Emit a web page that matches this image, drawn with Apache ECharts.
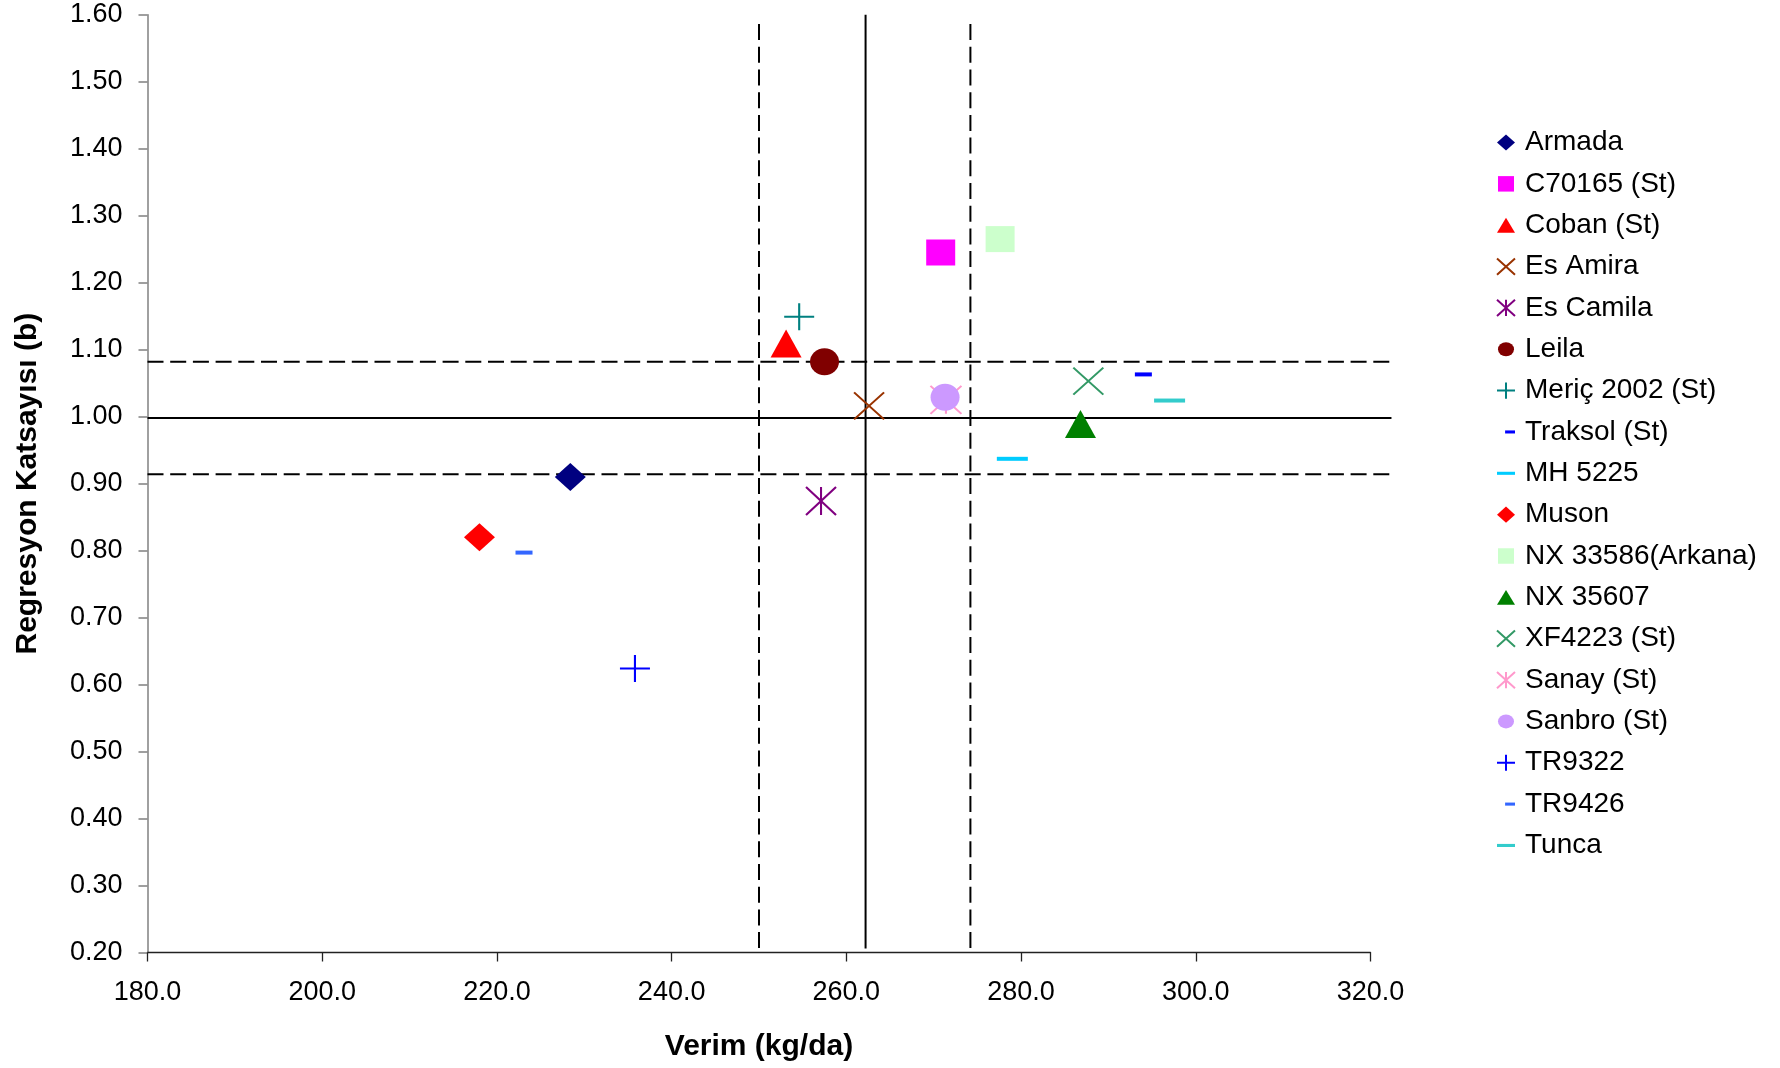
<!DOCTYPE html>
<html>
<head>
<meta charset="utf-8">
<title>Verim - Regresyon Katsayısı</title>
<script src="https://cdn.jsdelivr.net/npm/echarts@6/dist/echarts.min.js"></script>
<style>
  html, body { margin: 0; padding: 0; background: #fff; }
  #chart { width: 1780px; height: 1068px; }
</style>
</head>
<body>
<div id="chart"></div>
<script>
// Varieties, mean yield (kg/da) and regression coefficient (b)
const varieties = ['Armada', 'C70165 (St)', 'Coban (St)', 'Es Amira', 'Es Camila', 'Leila',
  'Meriç 2002 (St)', 'Traksol (St)', 'MH 5225', 'Muson', 'NX 33586(Arkana)', 'NX 35607',
  'XF4223 (St)', 'Sanay (St)', 'Sanbro (St)', 'TR9322', 'TR9426', 'Tunca'];
const yieldValues = [228.4, 270.8, 253.1, 262.6, 257.1, 257.5,
  254.6, 294.0, 279.0, 218.0, 277.6, 286.8,
  287.7, 271.4, 271.3, 235.8, 223.1, 297.0];
const regressionB = [0.910, 1.245, 1.109, 1.016, 0.874, 1.082,
  1.149, 1.063, 0.937, 0.820, 1.265, 0.989,
  1.053, 1.025, 1.029, 0.624, 0.797, 1.024];

// Axis ticks
const xTicks = [180, 200, 220, 240, 260, 280, 300, 320];
const yTicks = [0.20, 0.30, 0.40, 0.50, 0.60, 0.70, 0.80, 0.90, 1.00, 1.10, 1.20, 1.30, 1.40, 1.50, 1.60];

// Mean lines and their limits
const yieldMean = 262.2;
const yieldLimits = [250.0, 274.2];
const bMean = 0.998;
const bLimits = [0.914, 1.082];
const hLineSpan = [180, 322.4];   // horizontal guides run a little past the last x tick
const vLineSpan = [0.206, 1.60];
const vDashTop = 1.586;

// Plot box (px) and the x scale shared by both grids
const PLOT_LEFT = 147.5, PLOT_RIGHT = 409.5, PLOT_TOP = 14.7, PLOT_BOTTOM = 115.5;
const PX_PER_UNIT = (1780 - PLOT_LEFT - PLOT_RIGHT) / (xTicks[xTicks.length - 1] - xTicks[0]);
const guideRight = 1780 - PLOT_LEFT - (hLineSpan[1] - hLineSpan[0]) * PX_PER_UNIT;

// Marker shapes
const P = {
  x: 'path://M0,0 L10,10 M10,0 L0,10',
  plus: 'path://M5,0 L5,10 M0,5 L10,5',
  star: 'path://M0,0 L10,10 M10,0 L0,10 M5,0 L5,10'
};
const L = {
  diamond: 'path://M0,0 M20,20 M10,1 L20,10 L10,19 L0,10 Z',
  square: 'path://M0,0 M20,20 M1.1,1.4 L18.9,1.4 L18.9,18.6 L1.1,18.6 Z',
  triangle: 'path://M0,0 M20,20 M10,1.7 L20,18.3 L0,18.3 Z',
  x: 'path://M0,0 M20,20 M0,1 L20,19 M20,1 L0,19',
  plus: 'path://M0,0 M20,20 M10,1 L10,19 M0,10 L20,10',
  star: 'path://M0,0 M20,20 M0,1 L20,19 M20,1 L0,19 M10,1 L10,19',
  circle: 'path://M0,0 M20,20 M1.1,10 A8.9,7.8 0 1,1 18.9,10 A8.9,7.8 0 1,1 1.1,10 Z',
  dash: 'path://M0,0 M20,20 M0,8.3 L20,8.3 L20,11.7 L0,11.7 Z',
  shortDash: 'path://M0,0 M20,20 M9,8.3 L20,8.3 L20,11.7 L9,11.7 Z'
};

// Per-variety marker look, in the same order as the varieties
const markerStyles = [
  { symbol: 'diamond', size: [31, 28], color: '#000080', icon: L.diamond },
  { symbol: 'rect', size: [29, 26], color: '#FF00FF', icon: L.square },
  { symbol: 'triangle', size: [31, 28], color: '#FF0000', icon: L.triangle },
  { symbol: P.x, size: [30, 27], color: '#993300', icon: L.x, stroke: true },
  { symbol: P.star, size: [30, 28], color: '#800080', icon: L.star, stroke: true },
  { symbol: 'circle', size: [29, 27], color: '#800000', icon: L.circle },
  { symbol: P.plus, size: [30, 27], color: '#008080', icon: L.plus, stroke: true },
  { symbol: 'rect', size: [17, 4], color: '#0000FF', icon: L.shortDash },
  { symbol: 'rect', size: [31, 4], color: '#00CCFF', icon: L.dash },
  { symbol: 'diamond', size: [31, 28], color: '#FF0000', icon: L.diamond },
  { symbol: 'rect', size: [29, 26], color: '#CCFFCC', icon: L.square },
  { symbol: 'triangle', size: [31, 28], color: '#008000', icon: L.triangle },
  { symbol: P.x, size: [30, 27], color: '#339966', icon: L.x, stroke: true },
  { symbol: P.star, size: [31, 28], color: '#FF99CC', icon: L.star, stroke: true },
  { symbol: 'circle', size: [29, 27], color: '#CC99FF', icon: L.circle },
  { symbol: P.plus, size: [30, 27], color: '#0000FF', icon: L.plus, stroke: true },
  { symbol: 'rect', size: [17, 4], color: '#3366FF', icon: L.shortDash },
  { symbol: 'rect', size: [31, 4], color: '#33CCCC', icon: L.dash }
];

const FONT = "'Liberation Sans', Arial, Helvetica, sans-serif";

function refLine(points, dashed, axisIndex) {
  return {
    type: 'line',
    xAxisIndex: axisIndex,
    yAxisIndex: axisIndex,
    data: points,
    symbol: 'none',
    clip: false,
    silent: true,
    z: 1,
    animation: false,
    lineStyle: { color: '#000', width: 2, type: dashed ? [16, 6.7] : 'solid' }
  };
}

const lineSeries = [
  refLine([[yieldLimits[0], vDashTop], [yieldLimits[0], vLineSpan[0]]], true, 0),
  refLine([[yieldLimits[1], vDashTop], [yieldLimits[1], vLineSpan[0]]], true, 0),
  refLine([[yieldMean, vLineSpan[1]], [yieldMean, vLineSpan[0]]], false, 0),
  refLine([[hLineSpan[0], bLimits[0]], [hLineSpan[1], bLimits[0]]], true, 1),
  refLine([[hLineSpan[0], bLimits[1]], [hLineSpan[1], bLimits[1]]], true, 1),
  refLine([[hLineSpan[0], bMean], [hLineSpan[1], bMean]], false, 1)
];

const pointSeries = varieties.map((name, i) => {
  const m = markerStyles[i];
  return {
    name: name,
    type: 'scatter',
    xAxisIndex: 0,
    yAxisIndex: 0,
    z: 2,
    animation: false,
    symbol: m.symbol,
    symbolSize: m.size,
    data: [[yieldValues[i], regressionB[i]]],
    itemStyle: m.stroke
      ? { color: m.color, borderColor: m.color, borderWidth: 2, opacity: 1 }
      : { color: m.color, borderWidth: 0, opacity: 1 }
  };
});

const chart = echarts.init(document.getElementById('chart'), null, { renderer: 'canvas' });
chart.setOption({
  backgroundColor: '#ffffff',
  animation: false,
  grid: [
    { left: PLOT_LEFT, right: PLOT_RIGHT, top: PLOT_TOP, bottom: PLOT_BOTTOM, containLabel: false },
    { left: PLOT_LEFT, right: guideRight, top: PLOT_TOP, bottom: PLOT_BOTTOM, containLabel: false }
  ],
  legend: {
    orient: 'vertical',
    left: 1496,
    top: 127.5,
    padding: 0,
    itemWidth: 18,
    itemHeight: 18,
    itemGap: 11.35,
    selectedMode: false,
    textStyle: { fontFamily: FONT, fontSize: 28, color: '#000', lineHeight: 30, padding: [0, 0, 0, 5] },
    data: varieties.map((name, i) => ({ name: name, icon: markerStyles[i].icon }))
  },
  xAxis: [{
    type: 'value',
    gridIndex: 0,
    min: xTicks[0],
    max: xTicks[xTicks.length - 1],
    interval: xTicks[1] - xTicks[0],
    name: 'Verim (kg/da)',
    nameLocation: 'middle',
    nameGap: 79,
    nameTextStyle: { fontFamily: FONT, fontSize: 30, fontWeight: 'bold', color: '#000' },
    axisLine: { onZero: false, lineStyle: { color: '#222', width: 1.3 } },
    axisTick: { show: true, inside: false, length: 9, lineStyle: { color: '#222', width: 1.3 } },
    axisLabel: { margin: 27, fontFamily: FONT, fontSize: 27, color: '#000', formatter: v => v.toFixed(1) },
    splitLine: { show: false }
  }, {
    type: 'value',
    gridIndex: 1,
    min: hLineSpan[0],
    max: hLineSpan[1],
    show: false,
    splitLine: { show: false }
  }],
  yAxis: [{
    type: 'value',
    gridIndex: 0,
    min: yTicks[0],
    max: yTicks[yTicks.length - 1],
    interval: 0.1,
    name: 'Regresyon Katsayısı (b)',
    nameLocation: 'middle',
    nameGap: 104.5,
    nameRotate: 90,
    nameTextStyle: { fontFamily: FONT, fontSize: 30, fontWeight: 'bold', color: '#000' },
    axisLine: { onZero: false, lineStyle: { color: '#808080', width: 1.5 } },
    axisTick: { show: true, inside: false, length: 9, lineStyle: { color: '#808080', width: 1.5 } },
    axisLabel: { margin: 25, fontFamily: FONT, fontSize: 27, color: '#000', formatter: v => v.toFixed(2) },
    splitLine: { show: false }
  }, {
    type: 'value',
    gridIndex: 1,
    min: yTicks[0],
    max: yTicks[yTicks.length - 1],
    show: false,
    splitLine: { show: false }
  }],
  series: lineSeries.concat(pointSeries)
});
</script>
</body>
</html>
